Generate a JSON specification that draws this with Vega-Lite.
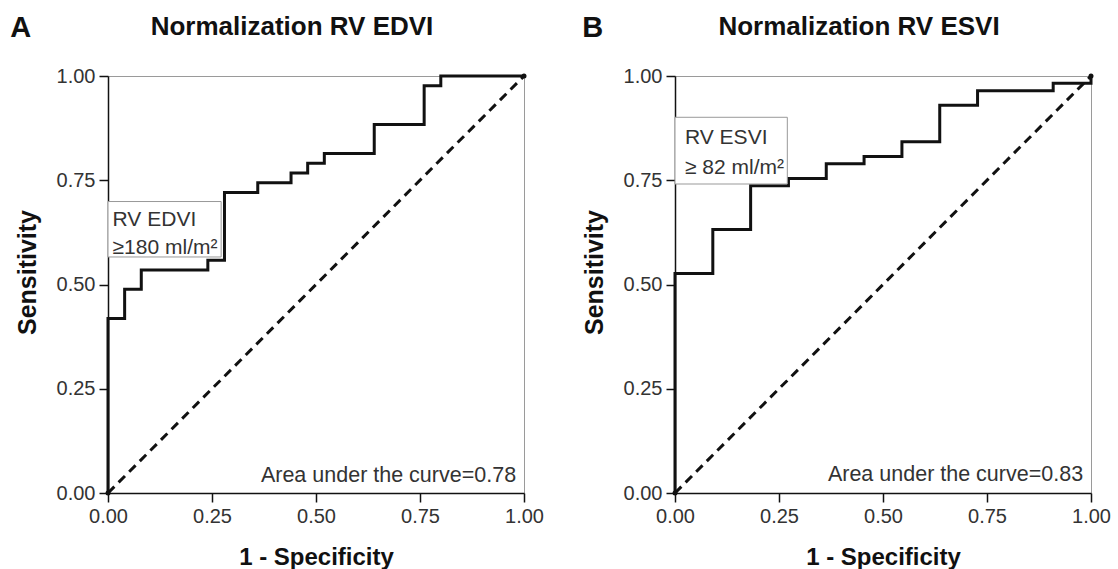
{
  "$schema": "https://vega.github.io/schema/vega-lite/v6.json",
  "background": "white",
  "padding": {"left": 9, "top": 13, "right": 5, "bottom": 5},
  "spacing": 37,
  "config": {
    "font": "Liberation Sans",
    "view": {"stroke": "#9a9a9a", "strokeWidth": 1},
    "axis": {
      "grid": false,
      "domainColor": "#111",
      "domainWidth": 1.5,
      "tickColor": "#111",
      "tickWidth": 1.5,
      "tickSize": 9,
      "labelFontSize": 20,
      "labelColor": "#333",
      "labelFlush": false,
      "labelPadding": 4,
      "titleFontWeight": "bold",
      "titleColor": "#111"
    },
    "title": {"fontSize": 26, "fontWeight": "bold", "color": "#111", "anchor": "middle", "dx": -24, "offset": -26}
  },
  "datasets": {
    "rocA": [
      {"i": 0, "fpr": 0, "tpr": 0},
      {"i": 1, "fpr": 0, "tpr": 0.4186},
      {"i": 2, "fpr": 0.04, "tpr": 0.4884},
      {"i": 3, "fpr": 0.08, "tpr": 0.5349},
      {"i": 4, "fpr": 0.24, "tpr": 0.5581},
      {"i": 5, "fpr": 0.28, "tpr": 0.7209},
      {"i": 6, "fpr": 0.36, "tpr": 0.7442},
      {"i": 7, "fpr": 0.44, "tpr": 0.7674},
      {"i": 8, "fpr": 0.48, "tpr": 0.7907},
      {"i": 9, "fpr": 0.52, "tpr": 0.814},
      {"i": 10, "fpr": 0.64, "tpr": 0.8837},
      {"i": 11, "fpr": 0.76, "tpr": 0.9767},
      {"i": 12, "fpr": 0.8, "tpr": 1},
      {"i": 13, "fpr": 1, "tpr": 1}
    ],
    "rocB": [
      {"i": 0, "fpr": 0, "tpr": 0},
      {"i": 1, "fpr": 0, "tpr": 0.5263},
      {"i": 2, "fpr": 0.0909, "tpr": 0.6316},
      {"i": 3, "fpr": 0.1818, "tpr": 0.7368},
      {"i": 4, "fpr": 0.2727, "tpr": 0.7544},
      {"i": 5, "fpr": 0.3636, "tpr": 0.7895},
      {"i": 6, "fpr": 0.4545, "tpr": 0.807},
      {"i": 7, "fpr": 0.5455, "tpr": 0.8421},
      {"i": 8, "fpr": 0.6364, "tpr": 0.9298},
      {"i": 9, "fpr": 0.7273, "tpr": 0.9649},
      {"i": 10, "fpr": 0.9091, "tpr": 0.9825},
      {"i": 11, "fpr": 1, "tpr": 1}
    ],
    "diag": [
      {"fpr": 0, "tpr": 0},
      {"fpr": 1, "tpr": 1}
    ],
    "boxA": [{"x0": 0, "x1": 0.272, "y0": 0.566, "y1": 0.699}],
    "boxB": [{"x0": 0, "x1": 0.27, "y0": 0.741, "y1": 0.901}],
    "noteA": [
      {"x": 0.011, "y": 0.655, "label": "RV EDVI"},
      {"x": 0.011, "y": 0.588, "label": "≥180 ml/m²"}
    ],
    "noteB": [
      {"x": 0.024, "y": 0.851, "label": "RV ESVI"},
      {"x": 0.024, "y": 0.779, "label": "≥ 82 ml/m²"}
    ],
    "aucA": [{"x": 0.981, "y": 0.027, "label": "Area under the curve=0.78"}],
    "aucB": [{"x": 0.981, "y": 0.028, "label": "Area under the curve=0.83"}],
    "letterA": [{"x": -0.21, "y": 1.115, "label": "A"}],
    "letterB": [{"x": -0.198, "y": 1.115, "label": "B"}]
  },
  "hconcat": [
    {
      "width": 416,
      "height": 417,
      "title": {"text": "Normalization RV EDVI"},
      "encoding": {
        "x": {"field": "fpr", "type": "quantitative", "scale": {"domain": [0, 1], "nice": false}, "axis": {"title": "1 - Specificity", "titleFontSize": 24, "titlePadding": 19, "values": [0, 0.25, 0.5, 0.75, 1], "format": ".2f"}},
        "y": {"field": "tpr", "type": "quantitative", "scale": {"domain": [0, 1], "nice": false}, "axis": {"title": "Sensitivity", "titleFontSize": 25, "titlePadding": 16, "titleY": 196, "values": [0, 0.25, 0.5, 0.75, 1], "format": ".2f"}}
      },
      "layer": [
        {"data": {"name": "diag"}, "mark": {"type": "line", "color": "#111", "strokeWidth": 3, "strokeDash": [9, 6]}},
        {"data": {"name": "diag"}, "mark": {"type": "point", "filled": true, "color": "#111", "size": 25, "opacity": 1}},
        {"data": {"name": "rocA"}, "mark": {"type": "line", "color": "#111", "strokeWidth": 3, "interpolate": "step-after"}, "encoding": {"order": {"field": "i", "type": "quantitative"}}},
        {"data": {"name": "boxA"}, "mark": {"type": "rect", "fill": "white", "stroke": "#999", "strokeWidth": 1}, "encoding": {"x": {"field": "x0", "type": "quantitative"}, "x2": {"field": "x1"}, "y": {"field": "y0", "type": "quantitative"}, "y2": {"field": "y1"}}},
        {"data": {"name": "noteA"}, "mark": {"type": "text", "align": "left", "baseline": "middle", "fontSize": 21, "color": "#333"}, "encoding": {"x": {"field": "x", "type": "quantitative"}, "y": {"field": "y", "type": "quantitative"}, "text": {"field": "label"}}},
        {"data": {"name": "aucA"}, "mark": {"type": "text", "align": "right", "baseline": "alphabetic", "fontSize": 21.5, "color": "#333"}, "encoding": {"x": {"field": "x", "type": "quantitative"}, "y": {"field": "y", "type": "quantitative"}, "text": {"field": "label"}}},
        {"data": {"name": "letterA"}, "mark": {"type": "text", "align": "center", "baseline": "middle", "fontSize": 29, "fontWeight": "bold", "color": "#111"}, "encoding": {"x": {"field": "x", "type": "quantitative"}, "y": {"field": "y", "type": "quantitative"}, "text": {"field": "label"}}}
      ]
    },
    {
      "width": 416,
      "height": 417,
      "title": {"text": "Normalization RV ESVI"},
      "encoding": {
        "x": {"field": "fpr", "type": "quantitative", "scale": {"domain": [0, 1], "nice": false}, "axis": {"title": "1 - Specificity", "titleFontSize": 24, "titlePadding": 19, "values": [0, 0.25, 0.5, 0.75, 1], "format": ".2f"}},
        "y": {"field": "tpr", "type": "quantitative", "scale": {"domain": [0, 1], "nice": false}, "axis": {"title": "Sensitivity", "titleFontSize": 25, "titlePadding": 16, "titleY": 196, "values": [0, 0.25, 0.5, 0.75, 1], "format": ".2f"}}
      },
      "layer": [
        {"data": {"name": "diag"}, "mark": {"type": "line", "color": "#111", "strokeWidth": 3, "strokeDash": [9, 6]}},
        {"data": {"name": "diag"}, "mark": {"type": "point", "filled": true, "color": "#111", "size": 25, "opacity": 1}},
        {"data": {"name": "rocB"}, "mark": {"type": "line", "color": "#111", "strokeWidth": 3, "interpolate": "step-after"}, "encoding": {"order": {"field": "i", "type": "quantitative"}}},
        {"data": {"name": "boxB"}, "mark": {"type": "rect", "fill": "white", "stroke": "#999", "strokeWidth": 1}, "encoding": {"x": {"field": "x0", "type": "quantitative"}, "x2": {"field": "x1"}, "y": {"field": "y0", "type": "quantitative"}, "y2": {"field": "y1"}}},
        {"data": {"name": "noteB"}, "mark": {"type": "text", "align": "left", "baseline": "middle", "fontSize": 21, "color": "#333"}, "encoding": {"x": {"field": "x", "type": "quantitative"}, "y": {"field": "y", "type": "quantitative"}, "text": {"field": "label"}}},
        {"data": {"name": "aucB"}, "mark": {"type": "text", "align": "right", "baseline": "alphabetic", "fontSize": 21.5, "color": "#333"}, "encoding": {"x": {"field": "x", "type": "quantitative"}, "y": {"field": "y", "type": "quantitative"}, "text": {"field": "label"}}},
        {"data": {"name": "letterB"}, "mark": {"type": "text", "align": "center", "baseline": "middle", "fontSize": 29, "fontWeight": "bold", "color": "#111"}, "encoding": {"x": {"field": "x", "type": "quantitative"}, "y": {"field": "y", "type": "quantitative"}, "text": {"field": "label"}}}
      ]
    }
  ]
}
